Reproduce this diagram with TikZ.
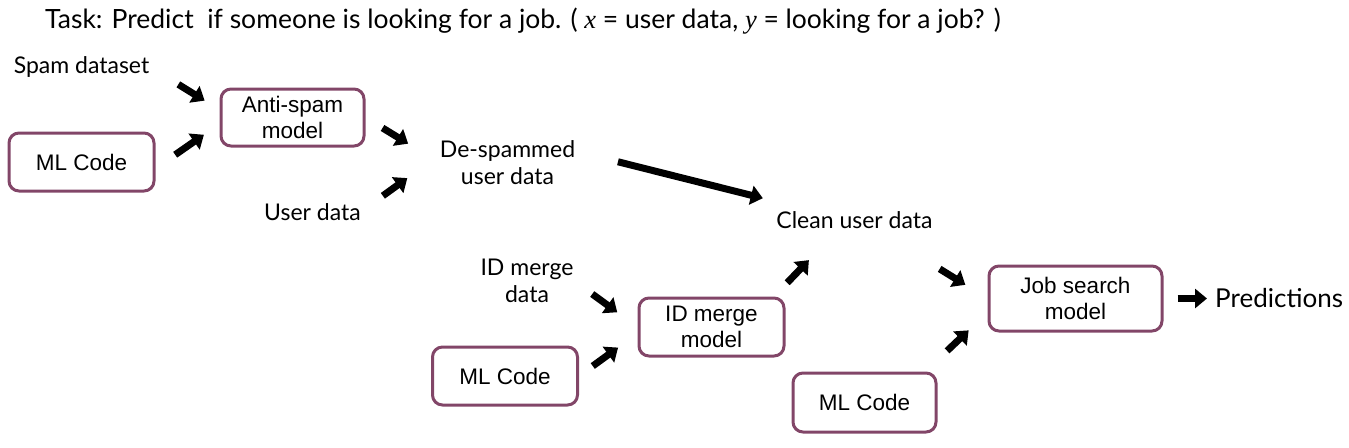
\documentclass[tikz,border=0pt]{standalone}
\usepackage{fontspec}
\setmainfont{Lato}
\newfontfamily\boxfont{Liberation Sans}
\newfontfamily\varfont{Liberation Serif}
\usepackage{tikz}
\usetikzlibrary{arrows.meta}
\definecolor{boxrim}{RGB}{130,70,104}
\tikzset{
    modelbox/.style={draw=boxrim, line width=3pt, rounded corners=10pt, align=center, inner sep=0pt, font=\boxfont\fontsize{22.5}{26}\selectfont},
    datatext/.style={align=center, inner sep=0pt, font=\fontsize{23}{27}\selectfont},
    fat/.style={line width=7pt, -{Triangle[length=12pt,width=19pt]}}
}

\begin{document}
\begin{tikzpicture}[x=1pt, y=-1pt]
\useasboundingbox (0,0) rectangle (1349,447);
\node[anchor=base west, inner sep=0pt, font=\fontsize{26.5}{30}\selectfont] (task) at (45,28) {Task: Predict\ \ if someone is looking for a job. ( {\varfont\itshape x} = user data, {\varfont\itshape y} = looking for a job? )};
% boxes
\foreach \n/\x/\y/\w/\h/\t in {mlcodeA/81.5/162/145/58/{ML Code}, antispam/292.5/117.5/143/57/{Anti-spam\\model}, mlcodeB/505/376/145/58/{ML Code}, idmerge/711.5/327/145/58/{ID merge\\model}, jobsearch/1075.5/298.5/173/65/{Job search\\model}, mlcodeC/864.5/402.5/143/59/{ML Code}}{
    \node[modelbox, minimum width=\w, minimum height=\h] (\n) at (\x,\y) {\t};
}
% data
\node[datatext, anchor=base] (spam) at (81.5,73) {Spam dataset};
\node[datatext, anchor=base] (user) at (312.5,220) {User data};
\node[datatext] (despam) at (507.5,163) {De-spammed\\user data};
\node[datatext, anchor=base] (clean) at (854.5,228) {Clean user data};
\node[datatext] (idata) at (527,280.5) {ID merge\\data};
\node[anchor=west, inner sep=0pt, font=\fontsize{26}{30}\selectfont] (pred) at (1215,298.5) {Predictions};
% arrows
\foreach \a/\b/\s/\e in {spam.east/antispam.174/34/17.5, mlcodeA.-5/antispam.185/24/19, antispam.east/despam.west/20/37, user.east/despam.173/27/40, despam.10/clean.168/44/52, idata.east/idmerge.west/23/25, mlcodeB.east/idmerge.185/17/24, idmerge.26/clean.210/19/44, clean.-24/jobsearch.west/77/26, mlcodeC.27/jobsearch.189/30/26, jobsearch.east/pred.west/14/8}{
    \draw[fat, shorten <=\s pt, shorten >=\e pt] (\a) -- (\b);
}
\end{tikzpicture}
\end{document}
